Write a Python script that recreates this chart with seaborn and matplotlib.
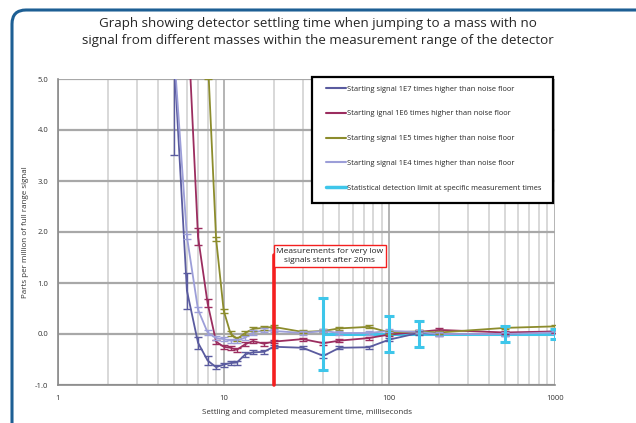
import numpy as np
import pandas as pd
import matplotlib
matplotlib.use("Agg")
import matplotlib.pyplot as plt
import seaborn as sns
from matplotlib.patches import FancyBboxPatch, Rectangle
from matplotlib.lines import Line2D
from matplotlib.ticker import FixedLocator, NullFormatter

# ---------------- data ----------------
times_e7 = [5, 6, 7, 8, 9, 10, 11, 12, 13.5, 15, 17.5, 20, 30, 40, 50, 75, 100, 150, 200, 500, 1000]
vals_e7 = [5.5, 0.85, -0.17, -0.52, -0.65, -0.60, -0.57, -0.56, -0.40, -0.36, -0.35, -0.25,
           -0.27, -0.43, -0.27, -0.26, -0.11, 0.02, 0.0, 0.0, 0.05]
err_e7 = [2.0, 0.35, 0.12, 0.08, 0.04, 0.04, 0.04, 0.04, 0.05, 0.04, 0.04, 0.03,
          0.03, 0.04, 0.03, 0.03, 0.03, 0.03, 0.03, 0.03, 0.03]

times_e6 = [6, 7, 8, 9, 10, 11, 12, 13.5, 15, 17.5, 20, 30, 40, 50, 75, 100, 150, 200, 500, 1000]
vals_e6 = [6.5, 1.91, 0.60, -0.15, -0.25, -0.27, -0.31, -0.20, -0.14, -0.19, -0.15,
           -0.10, -0.18, -0.13, -0.08, -0.01, 0.04, 0.08, 0.03, 0.05]
err_e6 = [0.5, 0.16, 0.08, 0.04, 0.04, 0.04, 0.04, 0.04, 0.04, 0.04, 0.03,
          0.03, 0.03, 0.03, 0.03, 0.03, 0.03, 0.03, 0.03, 0.03]

times_e5 = [8, 9, 10, 11, 12, 13.5, 15, 17.5, 20, 30, 40, 50, 75, 100, 150, 200, 500, 1000]
vals_e5 = [5.5, 1.87, 0.46, 0.01, -0.10, 0.02, 0.10, 0.12, 0.14, 0.04, 0.06, 0.11, 0.14,
           0.03, 0.05, 0.03, 0.12, 0.15]
err_e5 = [0.5, 0.04, 0.04, 0.04, 0.04, 0.04, 0.04, 0.04, 0.03, 0.03, 0.03, 0.03, 0.03,
          0.03, 0.03, 0.03, 0.03, 0.03]

times_e4 = [5, 6, 7, 8, 9, 10, 11, 12, 13.5, 15, 17.5, 20, 30, 40, 50, 75, 100, 150, 200, 500, 1000]
vals_e4 = [5.6, 1.91, 0.48, 0.03, -0.08, -0.10, -0.13, -0.13, -0.07, 0.03, 0.07, 0.06,
           0.02, 0.06, 0.02, 0.02, 0.06, 0.04, 0.0, 0.0, 0.03]
err_e4 = [0.5, 0.05, 0.04, 0.04, 0.04, 0.04, 0.04, 0.04, 0.04, 0.04, 0.04, 0.03,
          0.03, 0.03, 0.03, 0.03, 0.03, 0.03, 0.03, 0.03, 0.03]

limit_times = [40, 100, 150, 500, 1000]
limit_vals = [0.0, 0.0, 0.0, 0.0, 0.0]
limit_err = [0.70, 0.36, 0.26, 0.15, 0.10]

labels = [
    "Starting signal 1E7 times higher than noise floor",
    "Starting ignal 1E6 times higher than noise floor",
    "Starting signal 1E5 times higher than noise floor",
    "Starting signal 1E4 times higher than noise floor",
    "Statistical detection limit at specific measurement times",
]
colors = ["#5a5b9f", "#9b2d5f", "#8c8c2c", "#9c9ed8", "#3ec6ea"]

title = ("Graph showing detector settling time when jumping to a mass with no\n"
         "signal from different masses within the measurement range of the detector")
xlabel = "Settling and completed measurement time, milliseconds"
ylabel = "Parts per million of full range signal"
annot = "Measurements for very low\nsignals start after 20ms"

# ---------------- build table ----------------
series = [(times_e7, vals_e7, err_e7), (times_e6, vals_e6, err_e6),
          (times_e5, vals_e5, err_e5), (times_e4, vals_e4, err_e4)]
rows = []
for lab, (t, v, e) in zip(labels[:4], series):
    for ti, vi, ei in zip(t, v, e):
        rows.append({"time": ti, "value": vi, "err": ei, "series": lab})
df = pd.DataFrame(rows)

sns.set_style("white")
plt.rcParams["font.family"] = ["Open Sans", "DejaVu Sans"]

W, H = 636, 423
fig = plt.figure(figsize=(W / 100, H / 100), dpi=100)
ax = fig.add_axes([58 / W, 1 - 385 / H, (555 - 58) / W, (385 - 79) / H])

# frame
frame = FancyBboxPatch((12, -30), 680, 443, boxstyle="round,pad=0,rounding_size=14",
                       transform=None, fill=False, edgecolor="#1d5f94", linewidth=2.2,
                       zorder=0)
fig.patches.append(frame)

ax.set_xscale("log")
ax.set_xlim(1, 1000)
ax.set_ylim(-1, 5)

# grid
ax.xaxis.set_minor_locator(FixedLocator([m * 10 ** k for k in range(0, 3) for m in range(2, 10)]))
ax.xaxis.set_minor_formatter(NullFormatter())
ax.set_xticks([1, 10, 100, 1000])
ax.set_xticklabels(["1", "10", "100", "1000"])
ax.set_yticks([-1, 0, 1, 2, 3, 4, 5])
ax.set_yticklabels([f"{v:.1f}" for v in [-1, 0, 1, 2, 3, 4, 5]])
ax.grid(True, which="minor", axis="x", color="#d2d2d2", linewidth=1.2)
ax.grid(True, which="major", axis="x", color="#a8a8a8", linewidth=1.2)
ax.grid(True, which="major", axis="y", color="#a8a8a8", linewidth=1.6)
ax.set_axisbelow(True)
for s in ["top", "right"]:
    ax.spines[s].set_visible(False)
ax.spines["left"].set_color("#8a8a8a")
ax.spines["bottom"].set_color("#8a8a8a")
ax.spines["left"].set_linewidth(1.2)
ax.spines["bottom"].set_linewidth(1.2)
ax.tick_params(axis="both", which="major", labelsize=5.5, colors="#333333", length=3,
               width=0.8, pad=4)
ax.tick_params(axis="x", which="minor", length=0)

sns.lineplot(data=df, x="time", y="value", hue="series", palette=colors[:4],
             hue_order=labels[:4], sort=False, estimator=None, linewidth=1.3,
             legend=False, ax=ax, zorder=3)
for lab, c in zip(labels[:4], colors[:4]):
    sub = df[df["series"] == lab]
    ax.errorbar(sub["time"], sub["value"], yerr=sub["err"], fmt="none", ecolor=c,
                elinewidth=1.0, capsize=3, capthick=1.0, zorder=4)

# detection limit
ax.plot(limit_times, limit_vals, color=colors[4], linewidth=2.2, zorder=2.5)
ax.errorbar(limit_times, limit_vals, yerr=limit_err, fmt="none", ecolor=colors[4],
            elinewidth=2.2, capsize=3.5, capthick=2.2, zorder=5)

# red line and annotation
ax.plot([20, 20], [-1, 1.55], color="#f41f1f", linewidth=2.6, zorder=6, clip_on=False)
fig.text((275 + 385) / 2 / W, 1 - (243 + 269) / 2 / H, annot, ha="center", va="center",
         fontsize=6.0, color="#222222", linespacing=1.45,
         bbox=dict(boxstyle="square,pad=0.32", facecolor="white", edgecolor="#f41f1f",
                   linewidth=1.0), zorder=7)

ax.set_xlabel(xlabel, fontsize=5.8, color="#333333", labelpad=5)
ax.set_ylabel(ylabel, fontsize=5.8, color="#333333", labelpad=4)

fig.text(318 / W, 1 - 32 / H, title, ha="center", va="center", fontsize=9.6,
         color="#262626", linespacing=1.4)

# legend box
box = Rectangle((312, H - 203), 241, 126, transform=None, facecolor="white",
                edgecolor="black", linewidth=1.6, zorder=9, clip_on=False)
ax.add_artist(box)

handles = [Line2D([0], [0], color=c, linewidth=1.5 if i < 4 else 2.5)
           for i, c in enumerate(colors)]
leg = ax.legend(handles, labels, loc="upper left",
                bbox_to_anchor=(326 / W, 1 - 85.5 / H),
                bbox_transform=fig.transFigure, fontsize=5.4, frameon=False,
                handlelength=2.7, handletextpad=0.05, labelspacing=2.33,
                borderpad=0, borderaxespad=0)
leg.set_zorder(10)

fig.savefig("out.png", dpi=100)
